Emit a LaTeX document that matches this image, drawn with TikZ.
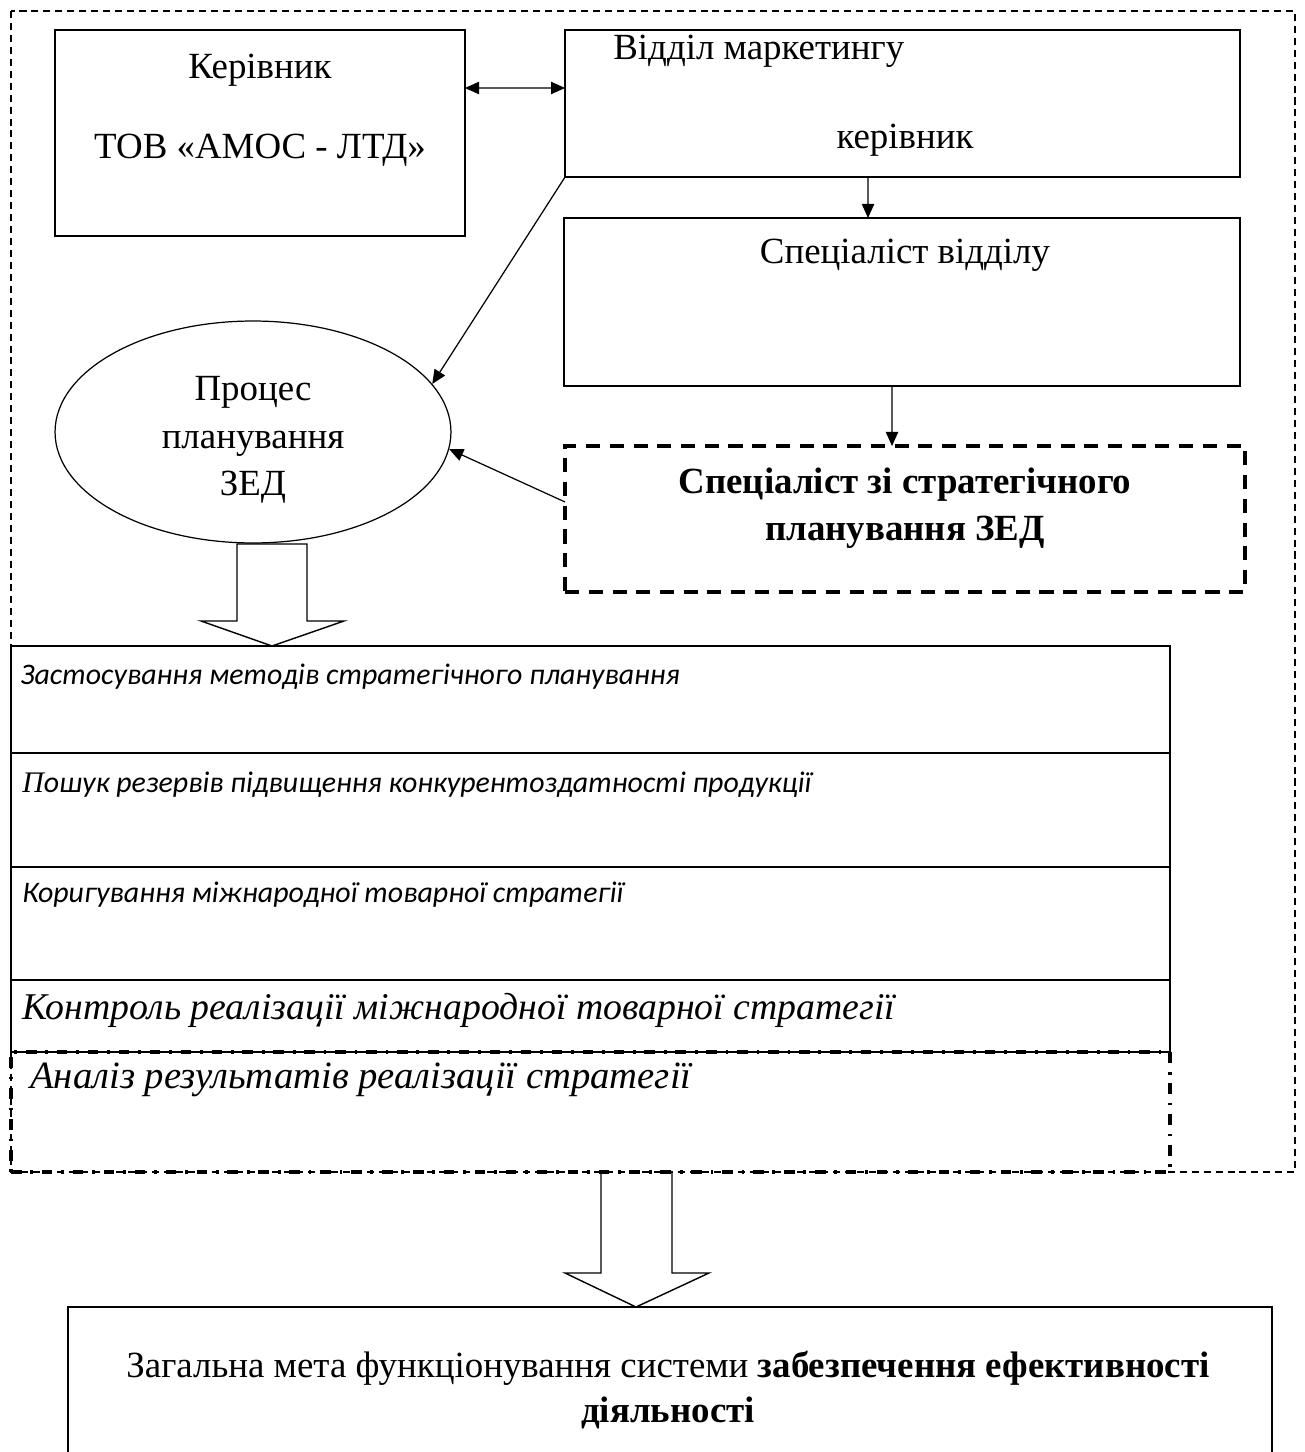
\documentclass[tikz,border=0pt]{standalone}
\usepackage{fontspec}
\setmainfont{Liberation Serif}
\newfontfamily\calibri{Carlito}
\usetikzlibrary{positioning,calc,arrows.meta,shapes.geometric}
\tikzset{font=\fontsize{21}{27}\selectfont,
	>={Triangle[length=8pt,width=7pt]},
	box/.style={draw, line width=1pt, inner sep=0pt, outer sep=0pt},
	dashbox/.style={draw, line width=1.9pt, dash pattern=on 8pt off 5.5pt, inner sep=0pt, outer sep=0pt},
	frame/.style={line width=0.6pt, dash pattern=on 4pt off 2.8pt},
	dashdot/.style={draw, line width=2pt, dash pattern=on 6pt off 5pt on 1.6pt off 5pt},
	arr/.style={line width=0.7pt},
	txt/.style={inner sep=0pt, align=center},
	rowtext/.style={inner sep=0pt, anchor=west, font=\calibri\itshape\fontsize{17}{20}\selectfont}}

\begin{document}
\begin{tikzpicture}[x=0.02cm, y=-0.02cm]
	\useasboundingbox (0,0) rectangle (1304,1452);
	\clip (0,0) rectangle (1304,1452);

	% outer frame
	\draw[frame] (11,11) rectangle (1295,1172);

	% top part
	\node[box, minimum width=8.2cm, minimum height=4.12cm] (boss) at (260,133) {};
	\node[txt] (bossname) at (260,70) {Керівник};
	\node[txt] (bossfirm) at (260,150) {ТОВ «АМОС - ЛТД»};

	\node[box, minimum width=13.5cm, minimum height=2.94cm] (mkt) at (902.5,103.5) {};
	\node[txt, anchor=west] (mktname) at (613,51) {Відділ маркетингу};
	\node[txt] (mkthead) at (905,140) {керівник};

	\node[box, minimum width=13.52cm, minimum height=3.36cm] (spec) at (902,302) {};
	\node[txt] (specname) at (905,255) {Спеціаліст відділу};

	\node[dashbox, minimum width=13.6cm, minimum height=2.92cm] (strat) at (905,519) {};
	\node[txt, font=\bfseries\fontsize{21}{27}\selectfont] (stratname) at (905,508)
		{Спеціаліст зі стратегічного\\планування ЗЕД};

	\node[draw, ellipse, line width=0.7pt, minimum width=7.92cm, minimum height=4.44cm] (proc) at (253,432) {};
	\node[txt] (proctext) at (253,440) {Процес\\планування\\ЗЕД};

	\draw[arr, <->] ([yshift=0.9cm]boss.east) -- ([yshift=0.31cm]mkt.west);
	\draw[arr, ->] ([xshift=-0.69cm]mkt.south) -- ([xshift=-0.68cm]spec.north);
	\draw[arr, ->] ([xshift=-0.2cm]spec.south) -- ([xshift=-0.26cm]strat.north);
	\draw[arr, ->] (mkt.south west) -- (proc.15);
	\draw[arr, ->] ([yshift=0.34cm]strat.west) -- (proc.-5);

	% hollow arrow to the list
	\draw[line width=0.8pt] (237,544) -- (237,621) -- (201,621) -- (272,646)
		-- (344,621) -- (307,621) -- (307,544) -- cycle;

	% list of tasks
	\node[box, minimum width=23.18cm, minimum height=2.14cm, anchor=north west] (row1) at (11,646) {};
	\node[box, minimum width=23.18cm, minimum height=2.28cm, below=0pt of row1] (row2) {};
	\node[box, minimum width=23.18cm, minimum height=2.26cm, below=0pt of row2] (row3) {};
	\node[box, minimum width=23.18cm, minimum height=1.44cm, below=0pt of row3] (row4) {};

	\node[rowtext] (task1) at (20,677) {Застосування методів стратегічного планування};
	\node[rowtext] (task2) at (22,785) {{\rmfamily П}ошук резервів підвищення конкурентоздатності продукції};
	\node[rowtext] (task3) at (22,895) {Коригування міжнародної товарної стратегії};
	\node[rowtext, font=\itshape\fontsize{21.5}{24}\selectfont] (task4) at (22,1010)
		{Контроль реалізації міжнародної товарної стратегії};

	% hollow arrow to the goal
	\draw[line width=0.8pt] (601,1173) -- (601,1273) -- (565,1273) -- (636,1307)
		-- (709,1273) -- (672,1273) -- (672,1173);

	\node[dashdot, inner sep=0pt, outer sep=0pt, minimum width=23.18cm, minimum height=2.4cm,
		anchor=north west] (review) at (11,1052) {};
	\node[rowtext, font=\itshape\fontsize{22}{24}\selectfont] (task5) at (30,1080)
		{Аналіз результатів реалізації стратегії};

	% goal
	\node[box, minimum width=24.08cm, minimum height=3.6cm, anchor=north] (goal) at (670,1307) {};
	\node[txt, font=\fontsize{21}{25.5}\selectfont] (goaltext) at (668,1390)
		{Загальна мета функціонування системи \textbf{забезпечення ефективності}\\\textbf{діяльності}};
\end{tikzpicture}
\end{document}
